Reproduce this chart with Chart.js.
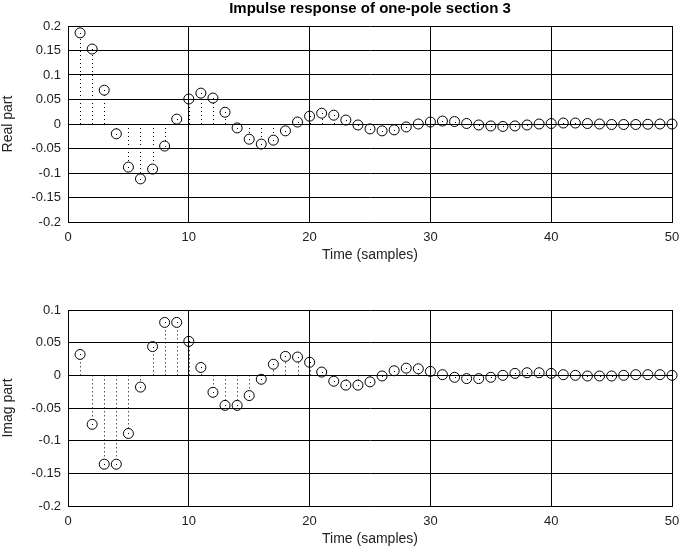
<!DOCTYPE html>
<html>
<head>
<meta charset="utf-8">
<script src="https://cdn.jsdelivr.net/npm/chart.js@4.4.0/dist/chart.umd.min.js"></script>
<style>
  html, body { margin: 0; padding: 0; background: #fff; overflow: hidden; }
  .panel { position: absolute; left: 0; width: 680px; }
</style>
</head>
<body>
<div class="panel" style="top:0;height:273px"><canvas id="realChart" width="680" height="273"></canvas></div>
<div class="panel" style="top:273px;height:277px"><canvas id="imagChart" width="680" height="277"></canvas></div>
<script>
// sample index n = 1..50
const samples = Array.from({ length: 50 }, (_, i) => i + 1);

const realPart = [
  0.186, 0.153, 0.069, -0.020, -0.088, -0.112, -0.092, -0.045, 0.010, 0.051,
  0.063, 0.053, 0.024, -0.008, -0.031, -0.041, -0.033, -0.014, 0.004, 0.016,
  0.022, 0.018, 0.008, -0.002, -0.010, -0.014, -0.012, -0.006, 0.000, 0.004,
  0.006, 0.005, 0.001, -0.002, -0.004, -0.005, -0.004, -0.002, 0.000, 0.001,
  0.002, 0.002, 0.001, 0.000, -0.001, -0.001, -0.001, -0.0005, 0.000, 0.000
];

const imagPart = [
  0.032, -0.075, -0.136, -0.136, -0.089, -0.018, 0.044, 0.081, 0.081, 0.052,
  0.012, -0.026, -0.046, -0.046, -0.031, -0.006, 0.017, 0.029, 0.028, 0.020,
  0.005, -0.009, -0.015, -0.015, -0.010, -0.001, 0.007, 0.011, 0.010, 0.006,
  0.001, -0.003, -0.005, -0.005, -0.003, 0.000, 0.003, 0.004, 0.004, 0.003,
  0.001, 0.000, -0.001, -0.001, -0.001, 0.000, 0.001, 0.001, 0.001, 0.000
];

const xTicks = [0, 10, 20, 30, 40, 50];
const realTicks = [-0.2, -0.15, -0.1, -0.05, 0, 0.05, 0.1, 0.15, 0.2];
const imagTicks = [-0.2, -0.15, -0.1, -0.05, 0, 0.05, 0.1];

const FONT = '"Liberation Sans", Arial, Helvetica, sans-serif';

// dotted stems from zero up to each circle, plus the little centre dot
const stemPlugin = {
  id: 'stems',
  afterDatasetsDraw(chart) {
    const { ctx, scales: { y } } = chart;
    const y0 = y.getPixelForValue(0);
    const r = 5;
    ctx.save();
    ctx.strokeStyle = '#000';
    ctx.fillStyle = '#000';
    ctx.lineWidth = 1;
    chart.getDatasetMeta(0).data.forEach(pt => {
      const px = Math.round(pt.x) + 0.5;
      const edge = pt.y < y0 ? pt.y + r : pt.y - r;
      if (Math.abs(y0 - pt.y) > r) {
        ctx.setLineDash([1, 3]);
        ctx.beginPath();
        ctx.moveTo(px, y0);
        ctx.lineTo(px, edge);
        ctx.stroke();
      }
      ctx.fillRect(Math.round(pt.x), Math.round(pt.y), 1, 1);
    });
    ctx.restore();
  }
};

function makeStemChart(id, values, yTicks, yLabel, opts) {
  return new Chart(document.getElementById(id), {
    type: 'scatter',
    data: {
      datasets: [{
        data: samples.map((n, i) => ({ x: n, y: values[i] })),
        pointStyle: 'circle',
        pointRadius: 5,
        pointHoverRadius: 5,
        pointBorderColor: '#000',
        pointBackgroundColor: 'rgba(0,0,0,0)',
        pointBorderWidth: 1,
        clip: false
      }]
    },
    options: {
      responsive: false,
      animation: false,
      devicePixelRatio: 1,
      layout: { padding: opts.padding },
      plugins: {
        legend: { display: false },
        tooltip: { enabled: false },
        title: opts.title
      },
      scales: {
        x: {
          type: 'linear',
          min: 0,
          max: 50,
          afterBuildTicks: s => { s.ticks = xTicks.map(v => ({ value: v })); },
          afterFit: s => {
            s.height = opts.xHeight;
            // keep the plot box out to x=672 like the original
            s.paddingLeft = 0;
            s.paddingRight = 8;
          },
          grid: { color: '#000', drawTicks: false },
          border: { color: '#000' },
          ticks: { color: '#222', padding: 8, font: { family: FONT, size: 13 } },
          title: {
            display: true,
            text: 'Time (samples)',
            color: '#222',
            padding: { top: 0, bottom: opts.xTitlePad },
            font: { family: FONT, size: 14 }
          }
        },
        y: {
          type: 'linear',
          min: yTicks[0],
          max: yTicks[yTicks.length - 1],
          afterBuildTicks: s => { s.ticks = yTicks.map(v => ({ value: v })); },
          afterFit: s => { s.width = 68; },
          grid: { color: '#000', drawTicks: false },
          border: { color: '#000' },
          ticks: {
            color: '#222',
            padding: 7,
            font: { family: FONT, size: 13 },
            callback: v => String(Math.round(v * 100) / 100)
          },
          title: {
            display: true,
            text: yLabel,
            color: '#222',
            padding: 0,
            font: { family: FONT, size: 14 }
          }
        }
      }
    },
    plugins: [stemPlugin]
  });
}

makeStemChart('realChart', realPart, realTicks, 'Real part', {
  padding: { top: 0, right: 0, bottom: 0, left: 0 },
  xHeight: 51,
  xTitlePad: 9,
  title: {
    display: true,
    text: 'Impulse response of one-pole section 3',
    color: '#000',
    fullSize: false,
    padding: { top: 0, bottom: 8 },
    font: { family: FONT, size: 15, weight: 'bold' }
  }
});

makeStemChart('imagChart', imagPart, imagTicks, 'Imag part', {
  padding: { top: 37, right: 0, bottom: 0, left: 0 },
  xHeight: 44,
  xTitlePad: 2,
  title: { display: false }
});
</script>
</body>
</html>
